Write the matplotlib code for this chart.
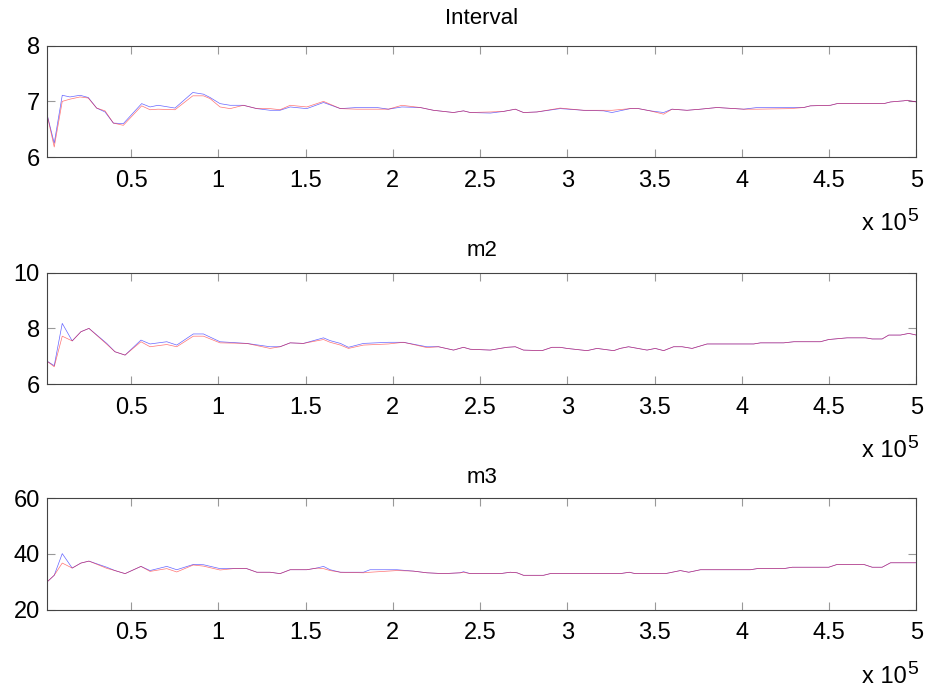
import numpy as np
import matplotlib
matplotlib.use('Agg')
import matplotlib.pyplot as plt
from matplotlib.ticker import FuncFormatter

plt.rcParams['font.family'] = ['Liberation Sans', 'DejaVu Sans']

# %%
# values (x in units of 1e5)
x_int = [0.017, 0.060, 0.106, 0.150, 0.208, 0.255, 0.303, 0.351, 0.399, 0.456,
         0.561, 0.609, 0.655, 0.752, 0.854, 0.915, 0.953, 1.010, 1.068, 1.144,
         1.221, 1.297, 1.354, 1.412, 1.507, 1.603, 1.700, 1.794, 1.909, 1.975,
         2.052, 2.157, 2.233, 2.348, 2.405, 2.444, 2.559, 2.635, 2.702, 2.749,
         2.826, 2.959, 3.093, 3.208, 3.256, 3.360, 3.408, 3.475, 3.552, 3.600,
         3.686, 3.763, 3.858, 4.011, 4.088, 4.279, 4.355, 4.393, 4.508, 4.546,
         4.814, 4.852, 4.928, 4.947, 5.000]
int_blue = [6.79, 6.25, 7.11, 7.08, 7.11, 7.07, 6.88, 6.81, 6.61, 6.60,
            6.96, 6.90, 6.93, 6.88, 7.16, 7.13, 7.07, 6.96, 6.93, 6.93,
            6.87, 6.84, 6.84, 6.90, 6.87, 6.98, 6.87, 6.89, 6.89, 6.86,
            6.90, 6.89, 6.84, 6.80, 6.83, 6.80, 6.79, 6.82, 6.86, 6.80,
            6.81, 6.87, 6.84, 6.83, 6.80, 6.87, 6.87, 6.83, 6.80, 6.86,
            6.84, 6.86, 6.89, 6.86, 6.89, 6.89, 6.89, 6.92, 6.93, 6.96,
            6.96, 6.99, 7.01, 7.02, 6.99]
int_red = [6.79, 6.18, 7.00, 7.04, 7.08, 7.06, 6.88, 6.83, 6.61, 6.57,
           6.92, 6.85, 6.86, 6.85, 7.10, 7.10, 7.05, 6.90, 6.87, 6.93,
           6.87, 6.87, 6.85, 6.93, 6.90, 7.00, 6.87, 6.86, 6.86, 6.86,
           6.93, 6.89, 6.84, 6.80, 6.83, 6.80, 6.81, 6.82, 6.86, 6.80,
           6.81, 6.88, 6.84, 6.84, 6.84, 6.87, 6.87, 6.83, 6.77, 6.86,
           6.84, 6.86, 6.89, 6.86, 6.86, 6.87, 6.89, 6.92, 6.93, 6.96,
           6.96, 6.99, 7.01, 7.02, 6.99]

x_m2 = [0.017, 0.060, 0.106, 0.163, 0.213, 0.259, 0.361, 0.408, 0.466, 0.557,
        0.609, 0.705, 0.762, 0.857, 0.915, 1.010, 1.163, 1.297, 1.354, 1.412,
        1.488, 1.603, 1.641, 1.700, 1.746, 1.832, 1.975, 2.061, 2.195, 2.262,
        2.348, 2.405, 2.444, 2.559, 2.654, 2.702, 2.749, 2.855, 2.912, 2.959,
        2.998, 3.113, 3.170, 3.266, 3.303, 3.351, 3.457, 3.504, 3.552, 3.609,
        3.658, 3.715, 3.801, 4.068, 4.107, 4.240, 4.298, 4.450, 4.498, 4.603,
        4.709, 4.747, 4.804, 4.842, 4.909, 4.957, 5.000]
m2_blue = [6.83, 6.66, 8.18, 7.55, 7.88, 8.00, 7.46, 7.16, 7.04, 7.58,
           7.44, 7.52, 7.40, 7.80, 7.80, 7.52, 7.46, 7.34, 7.34, 7.48,
           7.46, 7.66, 7.56, 7.46, 7.32, 7.46, 7.50, 7.50, 7.34, 7.34,
           7.22, 7.32, 7.25, 7.22, 7.32, 7.34, 7.22, 7.20, 7.32, 7.32,
           7.28, 7.20, 7.28, 7.20, 7.28, 7.34, 7.22, 7.28, 7.20, 7.34,
           7.34, 7.28, 7.44, 7.44, 7.48, 7.48, 7.52, 7.52, 7.60, 7.66,
           7.66, 7.62, 7.62, 7.76, 7.76, 7.82, 7.76]
m2_red = [6.83, 6.62, 7.72, 7.55, 7.88, 8.00, 7.43, 7.16, 7.04, 7.52,
          7.34, 7.42, 7.34, 7.72, 7.72, 7.48, 7.46, 7.28, 7.34, 7.48,
          7.46, 7.60, 7.50, 7.40, 7.28, 7.40, 7.44, 7.50, 7.31, 7.34,
          7.22, 7.32, 7.25, 7.22, 7.32, 7.34, 7.22, 7.20, 7.32, 7.32,
          7.28, 7.20, 7.28, 7.20, 7.28, 7.34, 7.22, 7.28, 7.20, 7.34,
          7.34, 7.28, 7.44, 7.44, 7.48, 7.48, 7.52, 7.52, 7.60, 7.66,
          7.66, 7.62, 7.62, 7.76, 7.76, 7.82, 7.76]

x_m3 = [0.017, 0.060, 0.106, 0.163, 0.213, 0.259, 0.361, 0.408, 0.466, 0.557,
        0.609, 0.705, 0.762, 0.857, 0.915, 1.010, 1.087, 1.163, 1.221, 1.297,
        1.354, 1.412, 1.507, 1.565, 1.603, 1.641, 1.700, 1.832, 1.870, 2.024,
        2.119, 2.195, 2.291, 2.387, 2.405, 2.444, 2.616, 2.673, 2.712, 2.749,
        2.864, 2.902, 3.303, 3.355, 3.389, 3.562, 3.648, 3.696, 3.763, 4.049,
        4.088, 4.240, 4.289, 4.498, 4.546, 4.699, 4.747, 4.804, 4.852, 5.000]
m3_blue = [29.8, 32.3, 40.1, 34.9, 36.7, 37.4, 35.2, 34.0, 32.9, 35.5,
           34.0, 35.5, 34.3, 36.2, 36.1, 34.7, 34.7, 34.7, 33.4, 33.4,
           32.9, 34.3, 34.3, 34.9, 35.5, 34.3, 33.4, 33.4, 34.3, 34.3,
           33.8, 33.2, 32.9, 33.2, 33.6, 32.9, 32.9, 33.4, 33.2, 32.3,
           32.3, 32.9, 32.9, 33.4, 32.9, 32.9, 34.0, 33.4, 34.3, 34.3,
           34.7, 34.7, 35.2, 35.2, 36.2, 36.2, 35.2, 35.2, 36.8, 36.8]
m3_red = [29.8, 32.3, 36.7, 34.9, 36.7, 37.4, 34.8, 34.0, 32.9, 35.5,
          33.7, 34.7, 33.5, 36.0, 35.6, 34.2, 34.7, 34.7, 33.4, 33.4,
          32.9, 34.3, 34.3, 34.9, 34.7, 34.0, 33.4, 33.2, 33.4, 34.0,
          33.8, 33.2, 32.9, 33.2, 33.4, 32.9, 32.9, 33.4, 33.2, 32.3,
          32.3, 32.9, 32.9, 33.4, 32.9, 32.9, 34.0, 33.4, 34.3, 34.3,
          34.7, 34.7, 35.2, 35.2, 36.2, 36.2, 35.2, 35.2, 36.8, 36.8]

titles = ['Interval', 'm2', 'm3']
yticks = [[6, 7, 8], [6, 8, 10], [20, 40, 60]]
xticks = [0.5, 1, 1.5, 2, 2.5, 3, 3.5, 4, 4.5, 5]
scale = 1e5

# %%
fig = plt.figure(figsize=(9.27, 6.86), dpi=100)
bottoms = [0.7711, 0.4402, 0.1115]
title_pads = [16, 12, 11]
series = [(x_int, int_blue, int_red), (x_m2, m2_blue, m2_red), (x_m3, m3_blue, m3_red)]

for i, (xs, yb, yr) in enumerate(series):
    ax = fig.add_axes([0.0504, bottoms[i], 0.9381, 0.1622])
    xv = np.array(xs) * scale
    ax.plot(xv, yb, color='b', lw=0.5, alpha=0.6)
    ax.plot(xv, yr, color='r', lw=0.5, alpha=0.55)
    ax.set_xlim(xv[0], xv[-1])
    ax.set_ylim(yticks[i][0], yticks[i][-1])
    ax.set_yticks(yticks[i])
    ax.set_xticks(np.array(xticks) * scale)
    ax.xaxis.set_major_formatter(FuncFormatter(lambda v, p: '%g' % (v / scale)))
    ax.tick_params(direction='in', length=5.5, width=0.8, color='#999999',
                   top=True, right=True, labelsize=17, labelcolor='black')
    ax.tick_params(axis='x', pad=9)
    ax.tick_params(axis='y', pad=5)
    for s in ax.spines.values():
        s.set_color('#444444')
        s.set_linewidth(0.8)
    ax.set_title(titles[i], fontsize=16, pad=title_pads[i])
    ax.annotate('x 10', xy=(1, 0), xycoords='axes fraction', xytext=(-10, -73),
                textcoords='offset pixels', ha='right', va='baseline', fontsize=17)
    ax.annotate('5', xy=(1, 0), xycoords='axes fraction', xytext=(-9, -64),
                textcoords='offset pixels', ha='left', va='baseline', fontsize=14)

plt.savefig('out.png', dpi=100)
